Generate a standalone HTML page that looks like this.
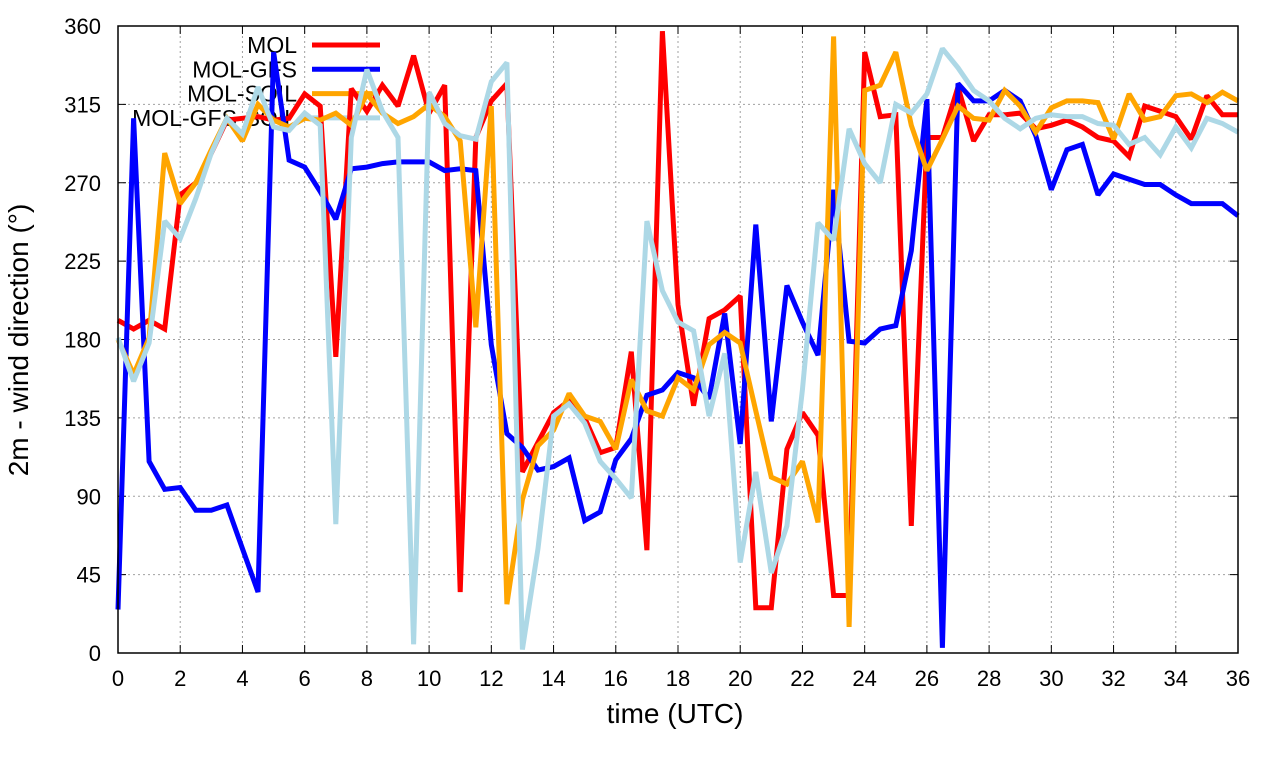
<!DOCTYPE html>
<html><head><meta charset="utf-8"><style>
body{margin:0;background:#fff;}
svg{display:block;font-family:"Liberation Sans",sans-serif;}
</style></head><body>
<svg id="chart" width="1280" height="760" xmlns="http://www.w3.org/2000/svg">
<g id="grid"></g>
<g id="axes"></g>
<g id="legend"></g>
<g id="series"></g>
<rect x="118" y="26" width="1120" height="627" fill="none" stroke="#000" stroke-width="1.5"/>
<text x="675" y="723" font-size="28" text-anchor="middle">time (UTC)</text>
<text transform="translate(28,340) rotate(-90)" font-size="28" text-anchor="middle">2m - wind direction (°)</text>
</svg>
<script>
const xTicks=[0,2,4,6,8,10,12,14,16,18,20,22,24,26,28,30,32,34,36];
const yTicks=[0,45,90,135,180,225,270,315,360];
const seriesNames=["MOL","MOL-GFS","MOL-SOIL","MOL-GFS-SOIL"];
const seriesColors=["#ff0000","#0000ff","#ffa500","#add8e6"];
const mol=[191,186,191,186,263,270,287,306,307,308,306,307,321,314,170,324,311,326,314,343,310,326,35,296,317,327,104,121,138,145,135,115,118,173,59,357,200,142,192,197,205,26,26,117,138,125,33,33,345,308,309,73,296,296,325,294,309,309,310,301,303,306,302,296,294,285,314,311,308,295,320,309,309];
const molGfs=[25,307,110,94,95,82,82,85,60,35,345,283,279,265,249,278,279,281,282,282,282,277,278,277,177,126,118,105,107,112,76,81,111,123,148,151,161,158,146,195,120,246,133,211,190,171,266,179,178,186,188,231,318,3,327,317,317,323,317,297,266,289,292,263,275,272,269,269,263,258,258,258,251];
const molSoil=[180,160,181,287,258,270,289,307,294,315,306,302,307,306,310,303,321,310,304,308,315,308,294,187,314,28,88,119,128,149,136,133,117,157,139,136,158,151,177,184,178,139,101,97,110,75,354,15,323,326,345,303,277,295,314,307,306,323,314,299,313,317,317,316,295,321,306,308,320,321,316,322,317];
const molGfsSoil=[181,156,178,248,238,261,287,307,298,325,302,300,310,303,74,296,335,311,296,5,322,304,297,295,328,339,2,60,136,143,132,110,100,89,248,208,190,185,136,172,52,104,46,73,151,247,237,301,281,270,315,310,321,347,336,323,317,307,301,307,309,308,308,304,303,292,296,286,302,290,307,304,299];
const allSeries=[mol,molGfs,molSoil,molGfsSoil];
const NS="http://www.w3.org/2000/svg";
const L=118,R=1238,T=26,B=653;
function xs(t){return L+(t/36)*(R-L);}
function ys(v){return B-(v/360)*(B-T);}
function mk(tag,attrs,parent){const e=document.createElementNS(NS,tag);for(const k in attrs)e.setAttribute(k,attrs[k]);parent.appendChild(e);return e;}
const grid=document.getElementById('grid'),axes=document.getElementById('axes'),legend=document.getElementById('legend'),series=document.getElementById('series');
xTicks.forEach(t=>{
 const x=xs(t);
 if(t>0&&t<36){const g=mk('line',{x1:x,x2:x,y1:T,y2:B,stroke:'#a0a0a0','stroke-width':1,'stroke-dasharray':'2,3'},grid);
 
 }
 const tk=mk('path',{d:`M${x},${B}v-8M${x},${T}v8`,stroke:'#000','stroke-width':1},axes);
 
 
 const lb=mk('text',{x:x,y:B+33,'font-size':22,'text-anchor':'middle'},axes);lb.textContent=t;
 
 
});
yTicks.forEach(v=>{
 const y=ys(v);
 if(v>0&&v<360){const g=mk('line',{x1:L,x2:R,y1:y,y2:y,stroke:'#a0a0a0','stroke-width':1,'stroke-dasharray':'2,3'},grid);
 
 }
 const tk=mk('path',{d:`M${L},${y}h8M${R},${y}h-8`,stroke:'#000','stroke-width':1},axes);
 
 
 const lb=mk('text',{x:L-17,y:y+8,'font-size':22,'text-anchor':'end'},axes);lb.textContent=v;
 
 
});
seriesNames.forEach((n,i)=>{
 const y=45+i*24.3;
 const tx=mk('text',{x:297,y:y+8,'font-size':23,'text-anchor':'end'},legend);tx.textContent=n;
 
 
 const ln=mk('line',{x1:312,x2:380,y1:y,y2:y,stroke:seriesColors[i],'stroke-width':5},legend);
 
 
});
allSeries.forEach((d,i)=>{
 const pts=d.map((v,k)=>xs(k*0.5).toFixed(1)+','+ys(v).toFixed(1)).join(' ');
 const p=mk('polyline',{points:pts,fill:'none',stroke:seriesColors[i],'stroke-width':5,'stroke-linejoin':'miter','stroke-miterlimit':2},series);
 
 
});
</script>
</body></html>
